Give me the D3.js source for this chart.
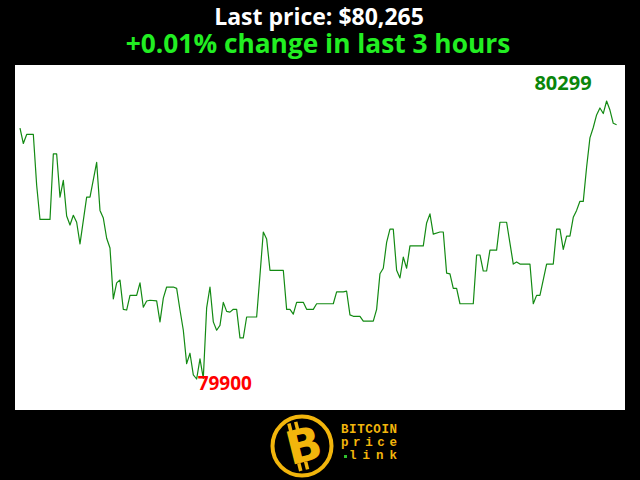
<!DOCTYPE html>
<html>
<head>
<meta charset="utf-8">
<script src="https://cdn.jsdelivr.net/npm/d3@7"></script>
<style>
  body { margin: 0; background: #000; }
  svg { display: block; }
</style>
</head>
<body>
<script>
// minutes since start of the 3 hour window (vertices of the line)
var minutes = [0, 1, 2, 4, 5, 6, 9, 10, 11, 12, 13, 14, 15, 16, 17, 18, 20, 21, 23, 24,
  25, 26, 27, 28, 29, 30, 31, 32, 33, 35, 36, 37, 38, 39, 41, 42, 43, 44, 46, 47,
  48, 49, 50, 51, 52, 53, 54, 55, 56, 57, 58, 59, 60, 61, 62, 63, 64, 65, 66, 67,
  68, 71, 72, 73, 74, 75, 79, 80, 81, 82, 83, 85, 86, 88, 89, 94, 95, 97, 98, 99,
  100, 102, 103, 106, 107, 108, 109, 110, 111, 112, 113, 114, 115, 116, 117, 121, 122, 123, 124, 126,
  127, 128, 129, 130, 131, 132, 136, 137, 138, 139, 140, 141, 143, 144, 146, 147, 148, 149, 150, 153,
  154, 155, 156, 158, 160, 161, 162, 163, 164, 165, 166, 167, 168, 169, 170, 171, 172, 173, 174, 175,
  176, 177, 178, 179]

var prices = [80260, 80238, 80251, 80251, 80178, 80129, 80129, 80223, 80223, 80161, 80185, 80134, 80121, 80135, 80125, 80094, 80161, 80161, 80211, 80142,
  80131, 80102, 80088, 80015, 80038, 80042, 80000, 79999, 80020, 80020, 80038, 80003, 80012, 80013, 80012, 79982, 80016, 80032, 80032, 80030,
  79999, 79970, 79922, 79937, 79906, 79900, 79929, 79901, 80002, 80032, 79982, 79970, 79977, 80010, 79997, 79996, 80000, 80000, 79959, 79959,
  79989, 79989, 80049, 80111, 80101, 80056, 80056, 80000, 80000, 79993, 80010, 80010, 80000, 80000, 80008, 80008, 80025, 80025, 80026, 79992,
  79990, 79990, 79983, 79983, 80000, 80051, 80059, 80096, 80115, 80115, 80056, 80045, 80075, 80059, 80091, 80091, 80124, 80137, 80108, 80111,
  80111, 80052, 80051, 80030, 80030, 80008, 80008, 80078, 80078, 80055, 80055, 80085, 80085, 80125, 80125, 80095, 80065, 80068, 80065, 80065,
  80008, 80020, 80020, 80065, 80065, 80115, 80115, 80086, 80105, 80105, 80132, 80142, 80155, 80155, 80204, 80246, 80261, 80279, 80289, 80281,
  80299, 80286, 80267, 80265]

var titleLines = ["Last price: $80,265", "+0.01% change in last 3 hours"]
var logoWords = ["BITCOIN", "price", "link"]

var screen = {width: 640, height: 480}
var plot = {left: 15, top: 65, right: 625, bottom: 410}

var data = minutes.map(function(m, i) { return {m: m, p: prices[i]} })

var svg = d3.select("body")
  .append("svg")
  .attr("width", screen.width)
  .attr("height", screen.height)

svg.append("rect")
  .attr("width", screen.width)
  .attr("height", screen.height)
  .attr("fill", "#000")

// white plot panel
svg.append("rect")
  .attr("x", plot.left)
  .attr("y", plot.top)
  .attr("width", plot.right - plot.left)
  .attr("height", plot.bottom - plot.top)
  .attr("fill", "#fff")

var xScale = d3.scaleLinear()
  .domain([0, 179])
  .range([20, 616.6])

var yScale = d3.scaleLinear()
  .domain(d3.extent(prices))
  .range([379, 101])

var line = d3.line()
  .x(function(d) { return xScale(d.m) })
  .y(function(d) { return yScale(d.p) })

svg.append("path")
  .datum(data)
  .attr("d", line)
  .attr("fill", "none")
  .attr("stroke", "#138a13")
  .attr("stroke-width", 1.2)
  .attr("stroke-linejoin", "round")

// min / max labels
var lo = data[d3.minIndex(data, function(d) { return d.p })]
var hi = data[d3.maxIndex(data, function(d) { return d.p })]

svg.append("text")
  .attr("x", xScale(lo.m) + 1)
  .attr("y", yScale(lo.p) + 11)
  .attr("font-family", "Open Sans")
  .attr("font-weight", "bold")
  .attr("font-size", 19)
  .attr("fill", "#ff0000")
  .text(lo.p)

svg.append("text")
  .attr("x", xScale(hi.m) - 15)
  .attr("y", yScale(hi.p) - 11)
  .attr("text-anchor", "end")
  .attr("font-family", "Open Sans")
  .attr("font-weight", "bold")
  .attr("font-size", 20)
  .attr("fill", "#0a860a")
  .text(hi.p)

// title
svg.append("text")
  .attr("x", 319)
  .attr("y", 24.5)
  .attr("text-anchor", "middle")
  .attr("font-family", "Open Sans")
  .attr("font-weight", "bold")
  .attr("font-size", 23)
  .attr("fill", "#fff")
  .text(titleLines[0])

svg.append("text")
  .attr("x", 318)
  .attr("y", 53)
  .attr("text-anchor", "middle")
  .attr("font-family", "Open Sans")
  .attr("font-weight", "bold")
  .attr("font-size", 26.3)
  .attr("fill", "#22ee22")
  .text(titleLines[1])

// logo
var gold = "#f2b50c"
var logo = svg.append("g").attr("transform", "translate(302,446)")

logo.append("circle")
  .attr("r", 29.5)
  .attr("fill", "none")
  .attr("stroke", gold)
  .attr("stroke-width", 4)

var b = logo.append("g").attr("transform", "rotate(-14)")
b.append("rect").attr("x", -9).attr("y", -25).attr("width", 3.5).attr("height", 8).attr("fill", gold)
b.append("rect").attr("x", -2).attr("y", -25).attr("width", 3.5).attr("height", 8).attr("fill", gold)
b.append("rect").attr("x", -9).attr("y", 16).attr("width", 3.5).attr("height", 8).attr("fill", gold)
b.append("rect").attr("x", -2).attr("y", 16).attr("width", 3.5).attr("height", 8).attr("fill", gold)
b.append("text")
  .attr("x", 2)
  .attr("y", 16)
  .attr("text-anchor", "middle")
  .attr("font-family", "DejaVu Sans")
  .attr("font-weight", "bold")
  .attr("font-size", 46)
  .attr("fill", gold)
  .text("B")

logo.selectAll(".word")
  .data(logoWords)
  .enter()
  .append("text")
  .attr("class", "word")
  .attr("x", function(d, i) { return i == 2 ? 47 : 39 })
  .attr("y", function(d, i) { return -13 + i * 13 })
  .attr("font-family", "Liberation Mono")
  .attr("font-weight", "bold")
  .attr("font-size", 12.5)
  .attr("fill", gold)
  .attr("textLength", function(d, i) { return i == 2 ? 48 : 56 })
  .attr("lengthAdjust", "spacing")
  .text(function(d) { return d })

logo.append("rect")
  .attr("x", 42)
  .attr("y", 9)
  .attr("width", 3)
  .attr("height", 3)
  .attr("fill", "#2fbf2f")
</script>
</body>
</html>
